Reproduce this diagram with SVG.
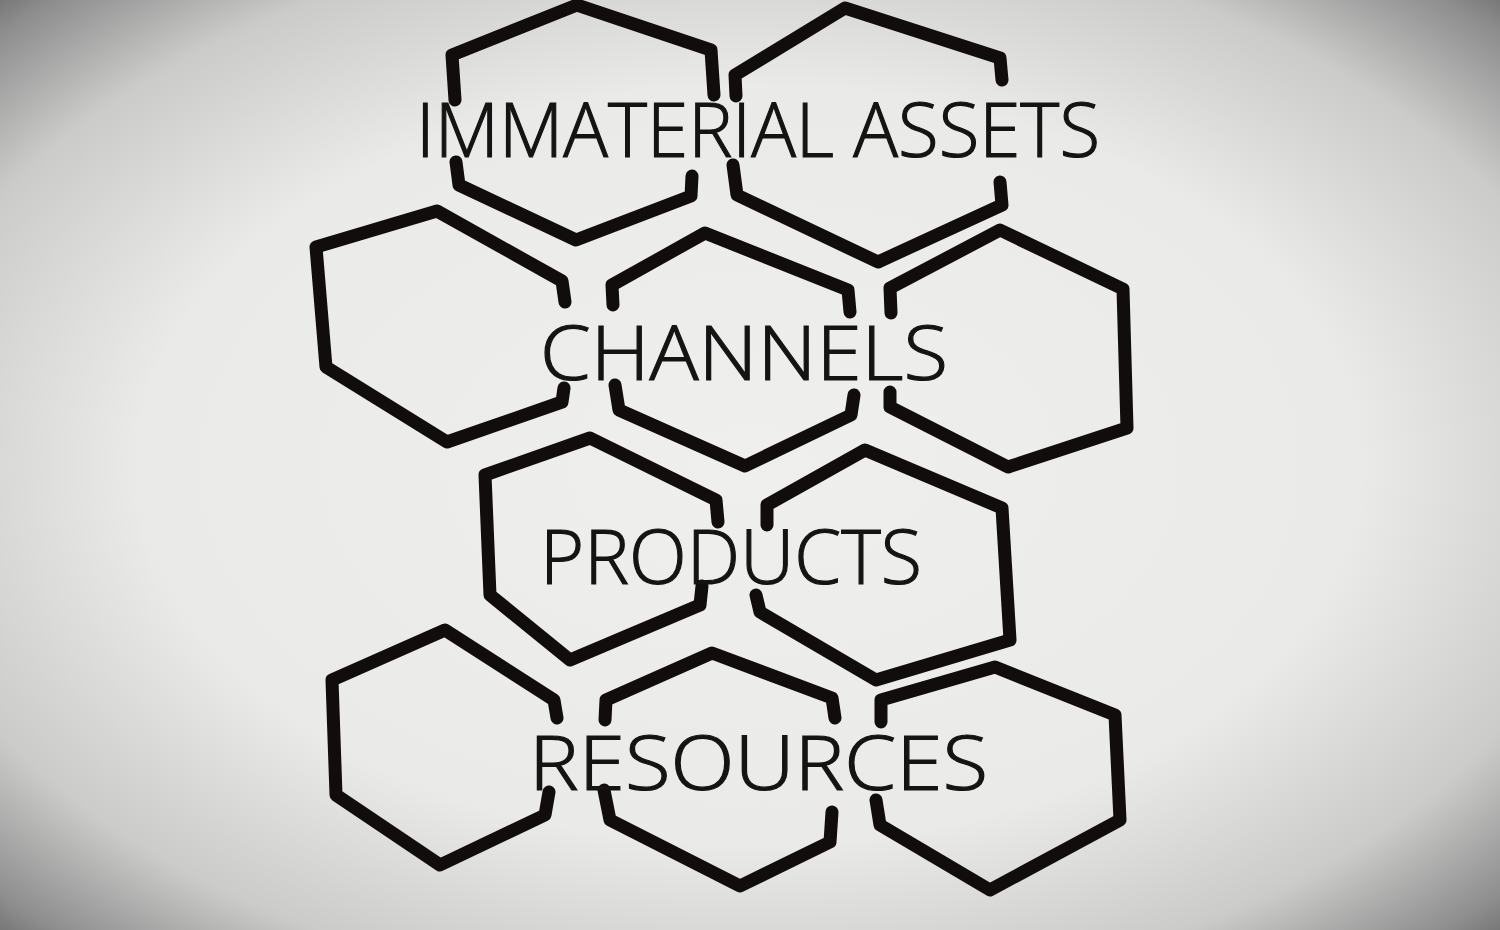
<svg xmlns="http://www.w3.org/2000/svg" width="1500" height="930" viewBox="0 0 1500 930">
<defs>
<radialGradient id="bg" cx="0.5" cy="0.5" r="0.74">
<stop offset="0" stop-color="#efefed"/>
<stop offset="0.55" stop-color="#eaeae8"/>
<stop offset="0.78" stop-color="#cbcbca"/>
<stop offset="0.92" stop-color="#8e8e8e"/>
<stop offset="1" stop-color="#5c5c5c"/>
</radialGradient>
<style>
.hex{fill:none;stroke:#120d0d;stroke-width:13;stroke-linejoin:round;stroke-linecap:round}
.lbl{font-family:"Open Sans","Liberation Sans",sans-serif;font-weight:300;fill:#141414;stroke:#141414;stroke-width:1.2;font-size:76px}
</style>
</defs>
<rect width="1500" height="930" fill="url(#bg)"/>
<g id="hexes">
<g id="hex-ia-left"><path class="hex" d="M455,100 L452,55 L577,5 L711,50 L714,95 M456,162 L459,185 L576,240 L691,196 L692,176"/></g>
<g id="hex-ia-right"><path class="hex" d="M736,96 L735,75 L845,8 L1000,58 L1002,80 M733,165 L737,195 L878,262 L1002,205 L1000,182"/></g>
<g id="hex-ch-left"><path class="hex" d="M316,247 L437,211 L562,281 L565,302 M316,247 L326,367 L447,442 L562,402 L564,388"/></g>
<g id="hex-ch-mid"><path class="hex" d="M613,305 L612,285 L705,233 L848,290 L850,312 M615,385 L619,410 L745,466 L851,415 L854,395"/></g>
<g id="hex-ch-right"><path class="hex" d="M891,313 L890,288 L1000,230 L1123,289 L1127,428 L1008,467 L890,407 L890,392"/></g>
<g id="hex-pr-left"><path class="hex" d="M718,522 L716,500 L590,438 L485,475 L490,595 L570,660 L700,605 L702,586"/></g>
<g id="hex-pr-right"><path class="hex" d="M767,525 L767,505 L865,450 L1002,508 L1010,640 L876,680 L760,612 L756,595"/></g>
<g id="hex-rs-left"><path class="hex" d="M557,718 L554,700 L445,630 L332,680 L336,795 L440,865 L545,815 L549,792"/></g>
<g id="hex-rs-mid"><path class="hex" d="M605,720 L606,700 L712,653 L832,698 L835,718 M604,790 L610,820 L740,886 L830,842 L832,812"/></g>
<g id="hex-rs-right"><path class="hex" d="M881,722 L881,700 L995,667 L1115,715 L1120,820 L990,890 L880,825 L876,800"/></g>
</g>
<g id="labels">
<text class="lbl" x="416" y="157" textLength="684" lengthAdjust="spacingAndGlyphs">IMMATERIAL ASSETS</text>
<text class="lbl" x="540" y="380" textLength="408" lengthAdjust="spacingAndGlyphs">CHANNELS</text>
<text class="lbl" x="540" y="584" textLength="382" lengthAdjust="spacingAndGlyphs">PRODUCTS</text>
<text class="lbl" x="529" y="790" textLength="459" lengthAdjust="spacingAndGlyphs">RESOURCES</text>
</g>
</svg>
